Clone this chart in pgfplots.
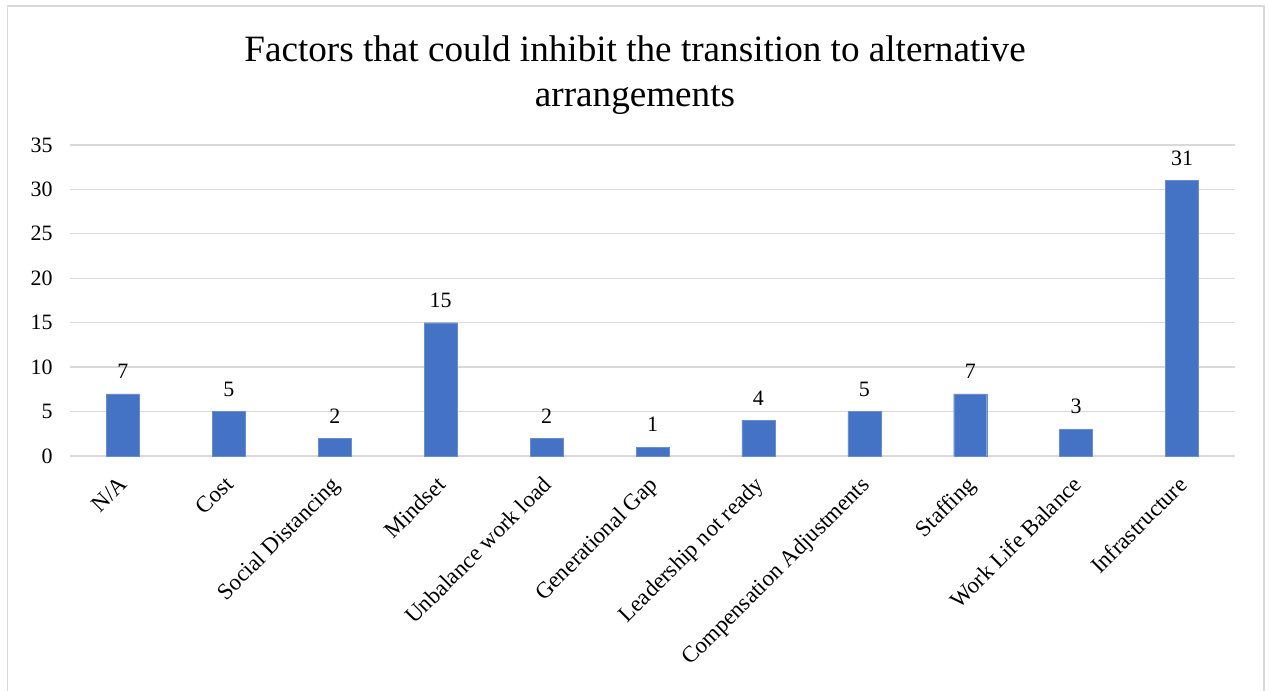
\documentclass[border=0pt]{standalone}
\usepackage{pgfplots}
\pgfplotsset{compat=1.18}
\usepackage{fontspec}
\setmainfont{Liberation Serif}
\definecolor{barblue}{HTML}{4472C4}
\definecolor{gridgray}{HTML}{D9D9D9}
\begin{document}
\begin{tikzpicture}[x=1bp,y=1bp]
\useasboundingbox (0,0) rectangle (1269,691);
\begin{scope}
\clip (0,0) rectangle (1269,691);
\draw[gridgray, line width=1.5bp] (7.5,-5) -- (7.5,685) -- (1264,685) -- (1264,-5);
\end{scope}
\node[align=center, font=\fontsize{37.3}{45}\selectfont] at (635,616) {Factors that could inhibit the transition to alternative\\arrangements};
\begin{axis}[
  at={(70bp,235bp)}, anchor=south west,
  scale only axis, width=1165bp, height=311bp,
  xmin=-0.5, xmax=10.5, ymin=0, ymax=35,
  ytick={0,5,...,35},
  xtick={0,...,10},
  xticklabels={N/A,Cost,Social Distancing,Mindset,Unbalance work load,Generational Gap,Leadership not ready,Compensation Adjustments,Staffing,Work Life Balance,Infrastructure},
  x tick label style={font=\fontsize{23}{26}\selectfont, anchor=north east, inner sep=2pt, xshift=-5bp, yshift=-16bp, rotate=45},
  y tick label style={font=\fontsize{22}{25}\selectfont, xshift=-14bp},
  /pgf/number format/assume math mode=true,
  major tick length=0pt,
  separate axis lines,
  axis x line*=bottom, axis y line*=left,
  y axis line style={draw=none},
  x axis line style={gridgray, line width=1.5bp, -},
  ymajorgrids, grid style={gridgray, line width=1.3bp},
  ytick style={draw=none}, xtick style={draw=none},
  ybar, bar width=33bp,
  nodes near coords,
  every node near coord/.append style={font=\fontsize{22}{25}\selectfont, black, inner sep=4pt, yshift=11bp},
  clip=false,
]
\addplot[fill=barblue, draw=barblue!80!white] coordinates {
(0,7) (1,5) (2,2) (3,15) (4,2) (5,1) (6,4) (7,5) (8,7) (9,3) (10,31)
};
\end{axis}
\end{tikzpicture}
\end{document}
